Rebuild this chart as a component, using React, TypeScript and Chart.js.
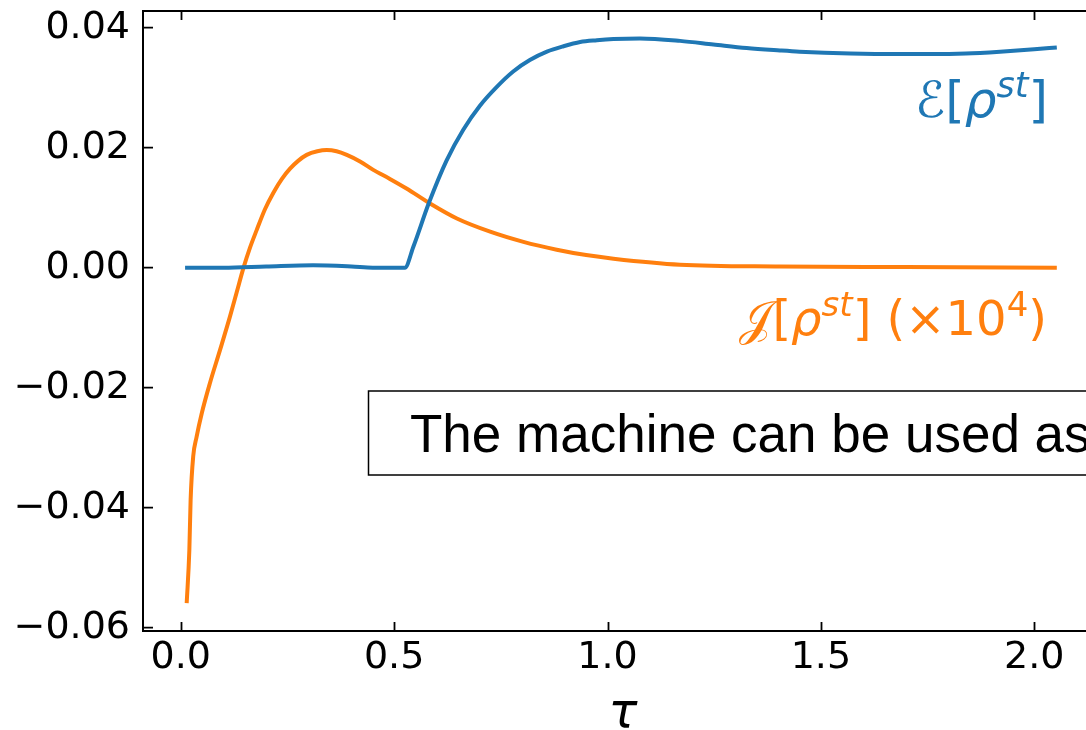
import React, { useEffect, useRef } from "react";
import { Chart, registerables } from "chart.js";

Chart.register(...registerables);

// ---- data ----
const tauE = [0.01, 0.1, 0.2, 0.31, 0.4, 0.45, 0.525, 0.545, 0.582, 0.623, 0.662, 0.701, 0.74, 0.779, 0.818, 0.858, 0.897, 0.936, 0.975, 1.014, 1.076, 1.17, 1.248, 1.326, 1.404, 1.45, 1.569, 1.685, 1.76, 1.84, 1.92, 2.0, 2.053];
const energyE = [0, 0, 0.0002, 0.0004, 0.0002, 0, 0, 0.0035, 0.0109, 0.0179, 0.023, 0.027, 0.0301, 0.0327, 0.0346, 0.036, 0.0369, 0.0376, 0.0379, 0.0381, 0.0382, 0.0378, 0.0372, 0.0366, 0.0362, 0.036, 0.0357, 0.0356, 0.0356, 0.0357, 0.036, 0.0364, 0.0367];

const tauJ = [0.0138, 0.02, 0.023, 0.029, 0.037, 0.049, 0.068, 0.092, 0.115, 0.131, 0.147, 0.162, 0.178, 0.197, 0.217, 0.237, 0.256, 0.275, 0.295, 0.32, 0.342, 0.365, 0.389, 0.42, 0.451, 0.49, 0.529, 0.584, 0.647, 0.725, 0.803, 0.881, 0.95, 1.014, 1.17, 1.404, 1.7, 2.053];
const currentJ = [-0.0559, -0.0471, -0.0387, -0.0315, -0.0282, -0.0243, -0.0193, -0.0137, -0.0082, -0.0041, 0.0, 0.0033, 0.0063, 0.0097, 0.0125, 0.0148, 0.0165, 0.0178, 0.0188, 0.0194, 0.0196, 0.0194, 0.0188, 0.0177, 0.0163, 0.0148, 0.0132, 0.0107, 0.0082, 0.006, 0.0043, 0.003, 0.0021, 0.0015, 0.0005, 0.0002, 0.0001, 0.0];

const xTicks = [0, 0.5, 1.0, 1.5, 2.0];
const xTickLabels = ["0.0", "0.5", "1.0", "1.5", "2.0"];
const yTicks = [-0.06, -0.04, -0.02, 0, 0.02, 0.04];
const yTickLabels = ["\u22120.06", "\u22120.04", "\u22120.02", "0.00", "0.02", "0.04"];

const labelE = "\u2130[\u03c1st]";
const labelJ = "\ud835\udca5[\u03c1st] (\u00d710\u2074)";
const boxText = "The machine can be used as";
const xTitle = "\u03c4";

const BLUE = "#1f77b4";
const ORANGE = "#ff7f0e";

type Part = { t: string; italic?: boolean; sup?: boolean };

function drawMath(ctx: CanvasRenderingContext2D, parts: Part[], right: number, base: number, size: number, color: string) {
  const fontFor = (p: Part) => `${p.italic ? "italic " : ""}${p.sup ? Math.round(size * 0.7) : size}px "DejaVu Sans"`;
  let total = 0;
  for (const p of parts) {
    ctx.font = fontFor(p);
    total += ctx.measureText(p.t).width;
  }
  let x = right - total;
  ctx.fillStyle = color;
  ctx.textAlign = "left";
  ctx.textBaseline = "alphabetic";
  for (const p of parts) {
    ctx.font = fontFor(p);
    ctx.fillText(p.t, x, p.sup ? base - size * 0.4 : base);
    x += ctx.measureText(p.t).width;
  }
}

const decorPlugin = {
  id: "decor",
  afterDraw(chart: any) {
    const { ctx, chartArea, scales } = chart;
    const { left, right, top, bottom } = chartArea;
    const xs = scales.x;
    const ys = scales.y;
    ctx.save();
    // spines
    ctx.strokeStyle = "#000";
    ctx.lineWidth = 2;
    ctx.beginPath();
    ctx.moveTo(left, top);
    ctx.lineTo(left, bottom);
    ctx.moveTo(left - 1, bottom);
    ctx.lineTo(right + 5, bottom);
    ctx.moveTo(left - 1, top);
    ctx.lineTo(right + 5, top);
    ctx.stroke();
    // inward ticks
    ctx.lineWidth = 1.8;
    ctx.beginPath();
    for (const v of xTicks) {
      const px = Math.round(xs.getPixelForValue(v)) + 0.5;
      ctx.moveTo(px, bottom);
      ctx.lineTo(px, bottom - 9);
      ctx.moveTo(px, top);
      ctx.lineTo(px, top + 9);
    }
    for (const v of yTicks) {
      const py = ys.getPixelForValue(v);
      ctx.moveTo(left, py);
      ctx.lineTo(left + 10, py);
    }
    ctx.stroke();

    // series labels
    const parts1: Part[] = [
      { t: "\u2130" },
      { t: "[" },
      { t: "\u03c1", italic: true },
      { t: "st", italic: true, sup: true },
      { t: "]" },
    ];
    drawMath(ctx, parts1, 1048, 117, 50, BLUE);
    const parts2: Part[] = [
      { t: "\ud835\udca5" },
      { t: "[" },
      { t: "\u03c1", italic: true },
      { t: "st", italic: true, sup: true },
      { t: "] (\u00d710" },
      { t: "4", sup: true },
      { t: ")" },
    ];
    drawMath(ctx, parts2, 1047, 335, 48, ORANGE);

    // text box
    ctx.strokeStyle = "#000";
    ctx.lineWidth = 1.5;
    ctx.strokeRect(368.5, 391, 900, 84);
    ctx.fillStyle = "#000";
    ctx.font = '53px "Liberation Sans", Arial, sans-serif';
    ctx.textAlign = "left";
    ctx.textBaseline = "alphabetic";
    ctx.fillText(boxText, 410, 452);

    // x axis title
    ctx.font = 'italic 48px "DejaVu Sans"';
    ctx.textAlign = "center";
    ctx.fillText(xTitle, 623, 727);
    ctx.restore();
  },
};

export default function App() {
  const ref = useRef<HTMLCanvasElement | null>(null);
  useEffect(() => {
    if (!ref.current) return;
    const tickFont = { family: "'DejaVu Sans'", size: 38 };
    const chart = new Chart(ref.current, {
      type: "line",
      data: {
        datasets: [
          {
            label: labelE,
            data: tauE.map((t, i) => ({ x: t, y: energyE[i] })),
            borderColor: BLUE,
            borderWidth: 4,
            pointRadius: 0,
            cubicInterpolationMode: "monotone",
            fill: false,
          },
          {
            label: labelJ,
            data: tauJ.map((t, i) => ({ x: t, y: currentJ[i] })),
            borderColor: ORANGE,
            borderWidth: 4,
            pointRadius: 0,
            cubicInterpolationMode: "monotone",
            fill: false,
          },
        ],
      },
      options: {
        responsive: false,
        animation: false,
        layout: { padding: { top: 11, left: 0, right: 0, bottom: 0 } },
        plugins: { legend: { display: false }, tooltip: { enabled: false } },
        scales: {
          x: {
            type: "linear",
            position: "bottom",
            min: -0.0886,
            max: 2.1214,
            grid: { display: false, drawTicks: false },
            border: { display: false },
            afterBuildTicks: (s: any) => {
              s.ticks = xTicks.map((v) => ({ value: v }));
            },
            afterFit: (s: any) => {
              s.height = 99;
              s.paddingLeft = 0;
              s.paddingRight = 0;
              s.paddingTop = 0;
              s.paddingBottom = 0;
            },
            ticks: {
              font: tickFont,
              color: "#000",
              padding: 4,
              maxRotation: 0,
              autoSkip: false,
              callback: (_v: any, i: number) => xTickLabels[i],
            },
          },
          y: {
            type: "linear",
            position: "left",
            min: -0.06055,
            max: 0.04278,
            grid: { display: false, drawTicks: false },
            border: { display: false },
            afterBuildTicks: (s: any) => {
              s.ticks = yTicks.map((v) => ({ value: v }));
            },
            afterFit: (s: any) => {
              s.width = 143;
              s.paddingLeft = 0;
              s.paddingRight = 0;
              s.paddingTop = 0;
              s.paddingBottom = 0;
            },
            ticks: {
              font: tickFont,
              color: "#000",
              padding: 13,
              autoSkip: false,
              callback: (_v: any, i: number) => yTickLabels[i],
            },
          },
        },
      },
      plugins: [decorPlugin],
    } as any);
    return () => chart.destroy();
  }, []);
  return (
    <div style={{ position: "fixed", left: 0, top: 0, width: 1086, height: 730, background: "#fff", overflow: "hidden" }}>
      <canvas ref={ref} width={1086} height={730} style={{ display: "block" }} />
    </div>
  );
}
